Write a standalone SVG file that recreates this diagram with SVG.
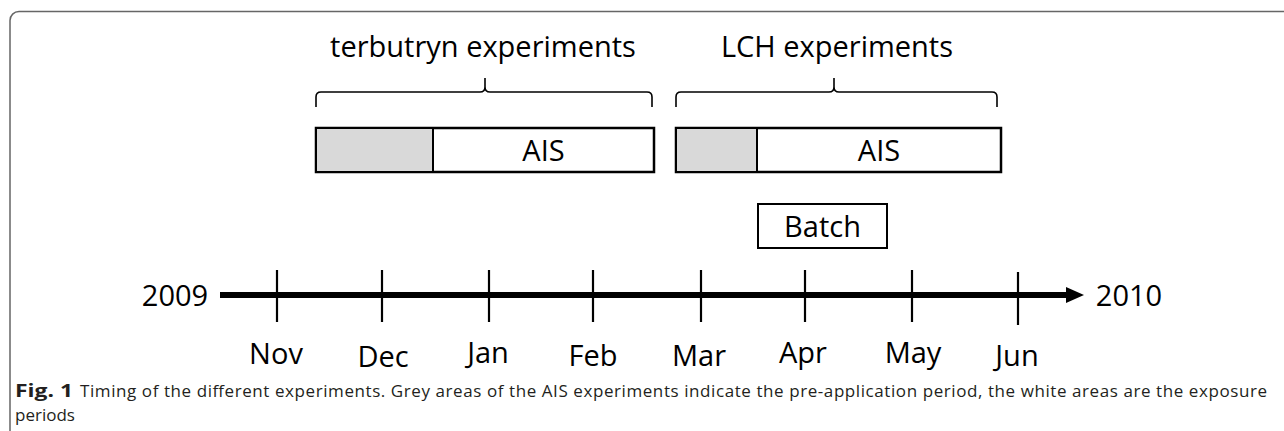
<svg xmlns="http://www.w3.org/2000/svg" width="1284" height="431" viewBox="0 0 1284 431">
<style>
.lbl{font-family:"Open Sans","Noto Sans","Liberation Sans",sans-serif;font-size:29px;fill:#000;text-anchor:middle}
.box{fill:#fff;stroke:#000;stroke-width:2.5}
.pre{fill:#d9d9d9;stroke:#000;stroke-width:2}
.brace{fill:none;stroke:#000;stroke-width:1.6}
.tick{stroke:#000;stroke-width:2.2}
.cap{font-family:"Open Sans","Noto Sans","Liberation Sans",sans-serif;font-size:17px;fill:#231f20}
</style>
<rect width="1284" height="431" fill="#fff"/>
<rect x="10" y="11.5" width="1300" height="440" rx="9" fill="none" stroke="#666" stroke-width="1.5"/>

<g id="terbutryn">
<text class="lbl" x="483" y="57">terbutryn experiments</text>
<path class="brace" d="M316,107 V97 Q316,92 321,92 H480 Q485,92 485,87 V78 M485,87 Q485,92 490,92 H647 Q652,92 652,97 V107"/>
<rect class="box" x="316" y="128" width="338" height="44"/>
<rect class="pre" x="316" y="128" width="117" height="44"/>
<text class="lbl" x="543.5" y="161">AIS</text>
</g>

<g id="lch">
<text class="lbl" x="837" y="57">LCH experiments</text>
<path class="brace" d="M676,107 V97 Q676,92 681,92 H829 Q834,92 834,87 V78 M834,87 Q834,92 839,92 H992 Q997,92 997,97 V107"/>
<rect class="box" x="676" y="128" width="325" height="44"/>
<rect class="pre" x="676" y="128" width="81" height="44"/>
<text class="lbl" x="879" y="161">AIS</text>
</g>

<g id="batch">
<rect x="758" y="204" width="129" height="44" fill="#fff" stroke="#000" stroke-width="2"/>
<text class="lbl" x="822.5" y="237">Batch</text>
</g>

<g id="connectors">
<line x1="220" y1="295" x2="1070" y2="295" stroke="#000" stroke-width="6"/>
<polygon points="1066,287 1084,295 1066,303" fill="#000"/>
<line class="tick" x1="277" y1="270" x2="277" y2="322"/>
<line class="tick" x1="382" y1="270" x2="382" y2="322"/>
<line class="tick" x1="489" y1="270" x2="489" y2="322"/>
<line class="tick" x1="593" y1="270" x2="593" y2="322"/>
<line class="tick" x1="701" y1="270" x2="701" y2="322"/>
<line class="tick" x1="805" y1="270" x2="805" y2="322"/>
<line class="tick" x1="912" y1="270" x2="912" y2="322"/>
<line class="tick" x1="1018" y1="272" x2="1018" y2="325"/>
</g>

<g id="years">
<text class="lbl" x="175" y="305.5">2009</text>
<text class="lbl" x="1129" y="305.5">2010</text>
</g>

<g id="months">
<text class="lbl" x="276" y="364">Nov</text>
<text class="lbl" x="383" y="367">Dec</text>
<text class="lbl" x="488" y="363">Jan</text>
<text class="lbl" x="593" y="366">Feb</text>
<text class="lbl" x="699" y="366">Mar</text>
<text class="lbl" x="803" y="363">Apr</text>
<text class="lbl" x="913" y="363">May</text>
<text class="lbl" x="1017" y="366">Jun</text>
</g>

<g id="caption">
<text class="cap" x="15" y="397" font-weight="bold" fill="#000" textLength="58" lengthAdjust="spacingAndGlyphs">Fig. 1</text>
<text class="cap" x="80" y="397" textLength="1187" lengthAdjust="spacing">Timing of the different experiments. Grey areas of the AIS experiments indicate the pre-application period, the white areas are the exposure</text>
<text class="cap" x="15" y="421">periods</text>
</g>
</svg>
